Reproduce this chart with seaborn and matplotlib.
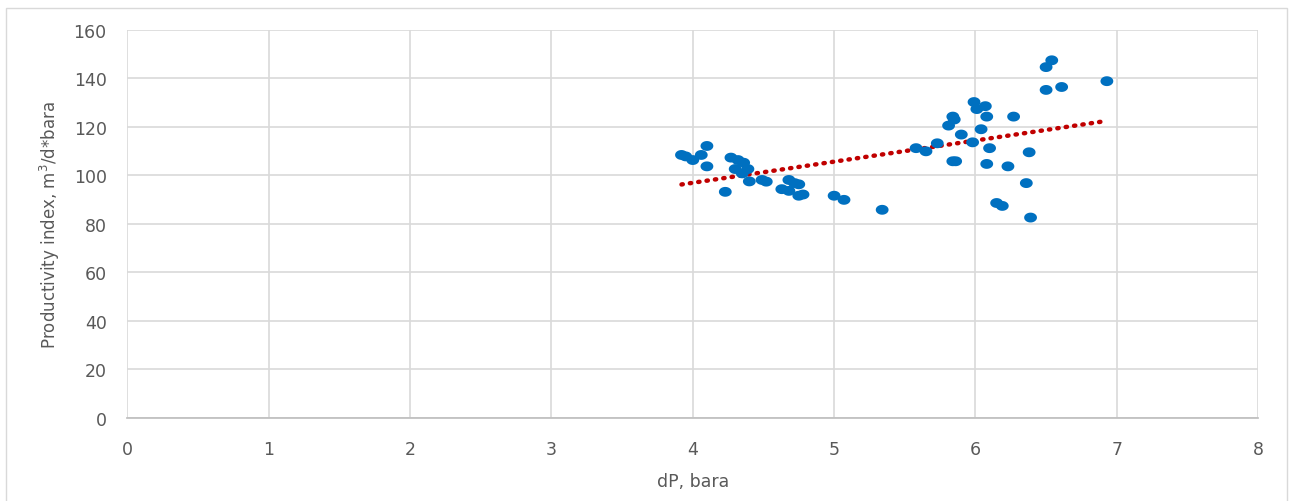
import numpy as np
import pandas as pd
import matplotlib
matplotlib.use("Agg")
import matplotlib.pyplot as plt
from matplotlib.path import Path
from matplotlib.patches import Rectangle
import seaborn as sns

# values
dp = [3.92, 3.95, 4.00, 4.06, 4.10, 4.10, 4.23, 4.27, 4.32, 4.36, 4.30, 4.39,
      4.35, 4.40, 4.49, 4.52, 4.68, 4.72, 4.75, 4.63, 4.68, 4.75, 4.78, 5.00,
      5.07, 5.34, 5.58, 5.65, 5.73, 5.81, 5.84, 5.85, 5.84, 5.86, 5.90, 5.98,
      5.99, 6.01, 6.04, 6.07, 6.08, 6.10, 6.08, 6.15, 6.19, 6.23, 6.27, 6.36,
      6.38, 6.39, 6.50, 6.54, 6.50, 6.61, 6.93]
pi = [108.4, 107.8, 106.3, 108.4, 112.1, 103.7, 93.2, 107.3, 106.3, 105.2, 102.6, 102.6,
      100.8, 97.5, 98.1, 97.4, 98.1, 96.8, 96.3, 94.3, 93.6, 91.6, 92.1, 91.6,
      89.9, 85.8, 111.2, 109.9, 113.2, 120.5, 124.2, 123.0, 105.8, 105.8, 116.8, 113.6,
      130.2, 127.3, 119.0, 128.5, 124.2, 111.2, 104.7, 88.6, 87.4, 103.7, 124.2, 96.8,
      109.5, 82.6, 144.6, 147.4, 135.2, 136.4, 138.8]
x_ticks = [0, 1, 2, 3, 4, 5, 6, 7, 8]
y_ticks = [0, 20, 40, 60, 80, 100, 120, 140, 160]

df = pd.DataFrame({"dP": dp, "PI": pi})

sns.set_theme(style="white")
plt.rcParams["font.family"] = ["DejaVu Sans"]
text_col = "#595959"

fig = plt.figure(figsize=(12.93, 5.02), dpi=100)
ax = fig.add_axes([0.0986, 0.1653, 0.8744, 0.7735])

# slightly wide ellipse marker like the Excel export
t = np.linspace(0, 2 * np.pi, 60)
ellipse = Path(np.column_stack([1.3 * np.cos(t), np.sin(t)]), closed=True)

sns.regplot(data=df, x="dP", y="PI", ax=ax, scatter=False, ci=None, truncate=True,
            line_kws=dict(color="#C00000", lw=3.2, linestyle=(0, (0.3, 1.6)),
                          dash_capstyle="round", zorder=2))
sns.scatterplot(data=df, x="dP", y="PI", ax=ax, marker=ellipse, s=85,
                color="#0070C0", edgecolor="none", zorder=3)

ax.set_xlim(0, 8)
ax.set_ylim(0, 160)
ax.set_xticks(x_ticks)
ax.set_yticks(y_ticks)
ax.grid(True, color="#D9D9D9", lw=1.2)
ax.set_axisbelow(True)
for s in ["top", "right", "left"]:
    ax.spines[s].set_visible(False)
ax.spines["bottom"].set_color("#BFBFBF")
ax.tick_params(axis="both", length=0, labelsize=12.5, colors=text_col)
ax.tick_params(axis="y", pad=15)
ax.tick_params(axis="x", pad=16)

ax.set_xlabel("dP, bara", fontsize=12.5, color=text_col, labelpad=10)
ax.set_ylabel("Productivity index, m$^3$/d*bara", fontsize=12, color=text_col, labelpad=8)

fig.patches.append(Rectangle((0.0046, -0.01), 0.991, 0.992, transform=fig.transFigure,
                             fill=False, edgecolor="#D9D9D9", lw=1))

fig.savefig("out.png", dpi=100)
